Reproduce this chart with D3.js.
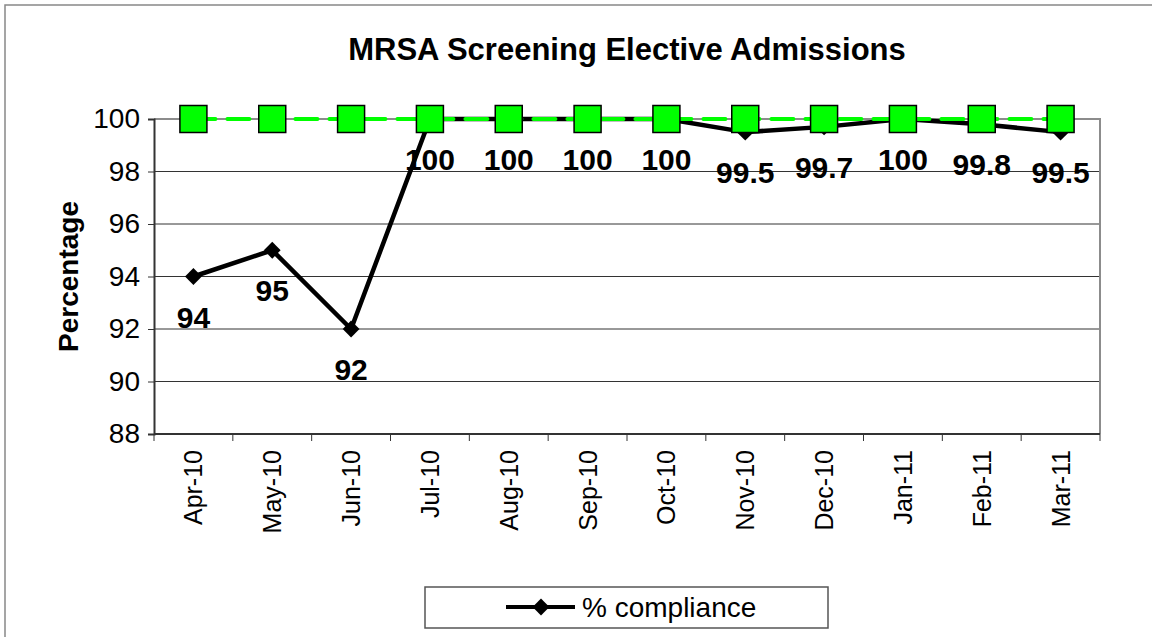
<!DOCTYPE html>
<html>
<head>
<meta charset="utf-8">
<script src="https://cdn.jsdelivr.net/npm/d3@7"></script>
<style>
  body { margin: 0; background: #fff; }
  text { font-family: Arial, "Liberation Sans", sans-serif; }
</style>
</head>
<body>
<svg id="chart" width="1152" height="637"></svg>
<script>
const months = ['Apr-10', 'May-10', 'Jun-10', 'Jul-10', 'Aug-10', 'Sep-10',
  'Oct-10', 'Nov-10', 'Dec-10', 'Jan-11', 'Feb-11', 'Mar-11']
const compliance = [94, 95, 92, 100, 100, 100, 100, 99.5, 99.7, 100, 99.8, 99.5]
const target = [100, 100, 100, 100, 100, 100, 100, 100, 100, 100, 100, 100]
const yTicks = [88, 90, 92, 94, 96, 98, 100]

let svg = d3.select('#chart')
let pLeft = 154, pRight = 1100, pTop = 119, pBottom = 434

// chart frame (right and bottom edges run off the picture)
svg.append('rect')
  .attr('x', 5).attr('y', 5)
  .attr('width', 1200).attr('height', 700)
  .attr('fill', '#fff')
  .attr('stroke', '#888')
  .attr('stroke-width', 1.5)

let x = d3.scaleBand().domain(months).range([pLeft, pRight])
let y = d3.scaleLinear().domain([88, 100]).range([pBottom, pTop])

// gridlines
svg.append('g')
  .selectAll('line')
  .data(yTicks.filter(d => d > 88 && d < 100))
  .enter()
  .append('line')
  .attr('x1', pLeft).attr('x2', pRight)
  .attr('y1', d => y(d)).attr('y2', d => y(d))
  .attr('stroke', '#333')
  .attr('stroke-width', 1)

// plot border top / right
svg.append('path')
  .attr('d', `M${pLeft},${pTop}H${pRight}V${pBottom}`)
  .attr('fill', 'none')
  .attr('stroke', '#8c8c8c')
  .attr('stroke-width', 2)

// y axis
let yAxis = svg.append('g')
  .attr('transform', `translate(${pLeft},0)`)
  .call(d3.axisLeft(y).tickValues(yTicks).tickSize(6).tickPadding(8))
yAxis.select('.domain').attr('stroke', '#333').attr('stroke-width', 2)
yAxis.selectAll('.tick line').attr('stroke', '#333')
yAxis.selectAll('text')
  .style('font-size', '28px')
  .style('font-family', 'Arial, "Liberation Sans", sans-serif')
  .attr('fill', '#000')

// x axis: ticks at category boundaries
let xAxis = svg.append('g')
  .attr('transform', `translate(0,${pBottom})`)
xAxis.append('line')
  .attr('x1', pLeft).attr('x2', pRight)
  .attr('stroke', '#333').attr('stroke-width', 2)
xAxis.selectAll('line.tk')
  .data(months.concat(['end']))
  .enter()
  .append('line')
  .attr('class', 'tk')
  .attr('x1', (d, i) => pLeft + i * x.step())
  .attr('x2', (d, i) => pLeft + i * x.step())
  .attr('y2', 7)
  .attr('stroke', '#333')
xAxis.selectAll('text')
  .data(months)
  .enter()
  .append('text')
  .attr('transform', d => `translate(${x(d) + x.bandwidth() / 2 + 9},16) rotate(-90)`)
  .attr('text-anchor', 'end')
  .style('font-size', '25px')
  .text(d => d)

// axis title
svg.append('text')
  .attr('transform', `translate(78,${(pTop + pBottom) / 2}) rotate(-90)`)
  .attr('text-anchor', 'middle')
  .style('font-size', '28px')
  .style('font-weight', 'bold')
  .text('Percentage')

// chart title
svg.append('text')
  .attr('x', (pLeft + pRight) / 2)
  .attr('y', 60)
  .attr('text-anchor', 'middle')
  .style('font-size', '31px')
  .style('font-weight', 'bold')
  .text('MRSA Screening Elective Admissions')

let cx = d => x(d) + x.bandwidth() / 2
let line = d3.line().x((d, i) => cx(months[i])).y(d => y(d))
let diamond = d3.symbol().type(d3.symbolDiamond2).size(180)

// compliance series
svg.append('path')
  .datum(compliance)
  .attr('d', line)
  .attr('fill', 'none')
  .attr('stroke', '#000')
  .attr('stroke-width', 4.5)
  .attr('stroke-linejoin', 'round')

svg.append('g')
  .selectAll('path')
  .data(compliance)
  .enter()
  .append('path')
  .attr('d', diamond)
  .attr('transform', (d, i) => `translate(${cx(months[i])},${y(d)})`)
  .attr('fill', '#000')

// target series
svg.append('path')
  .datum(target)
  .attr('d', line)
  .attr('fill', 'none')
  .attr('stroke', '#00ff00')
  .attr('stroke-width', 4)
  .attr('stroke-linecap', 'round')
  .attr('stroke-dasharray', '22 12')

svg.append('g')
  .selectAll('rect')
  .data(target)
  .enter()
  .append('rect')
  .attr('x', (d, i) => cx(months[i]) - 13.5)
  .attr('y', d => y(d) - 13.5)
  .attr('width', 27)
  .attr('height', 27)
  .attr('fill', '#00ff00')
  .attr('stroke', '#000')
  .attr('stroke-width', 1.5)

// data labels
svg.append('g')
  .selectAll('text')
  .data(compliance)
  .enter()
  .append('text')
  .attr('x', (d, i) => cx(months[i]))
  .attr('y', d => y(d) + 51)
  .attr('text-anchor', 'middle')
  .style('font-size', '30px')
  .style('font-weight', 'bold')
  .text(d => d)

// legend
let lg = svg.append('g')
lg.append('rect')
  .attr('x', 425).attr('y', 587)
  .attr('width', 403).attr('height', 41)
  .attr('fill', '#fff')
  .attr('stroke', '#555')
  .attr('stroke-width', 1.5)
lg.append('line')
  .attr('x1', 506).attr('x2', 575)
  .attr('y1', 607).attr('y2', 607)
  .attr('stroke', '#000').attr('stroke-width', 4)
lg.append('path')
  .attr('d', diamond)
  .attr('transform', 'translate(541,607)')
lg.append('text')
  .attr('x', 582).attr('y', 617)
  .style('font-size', '28px')
  .text('% compliance')
</script>
</body>
</html>
